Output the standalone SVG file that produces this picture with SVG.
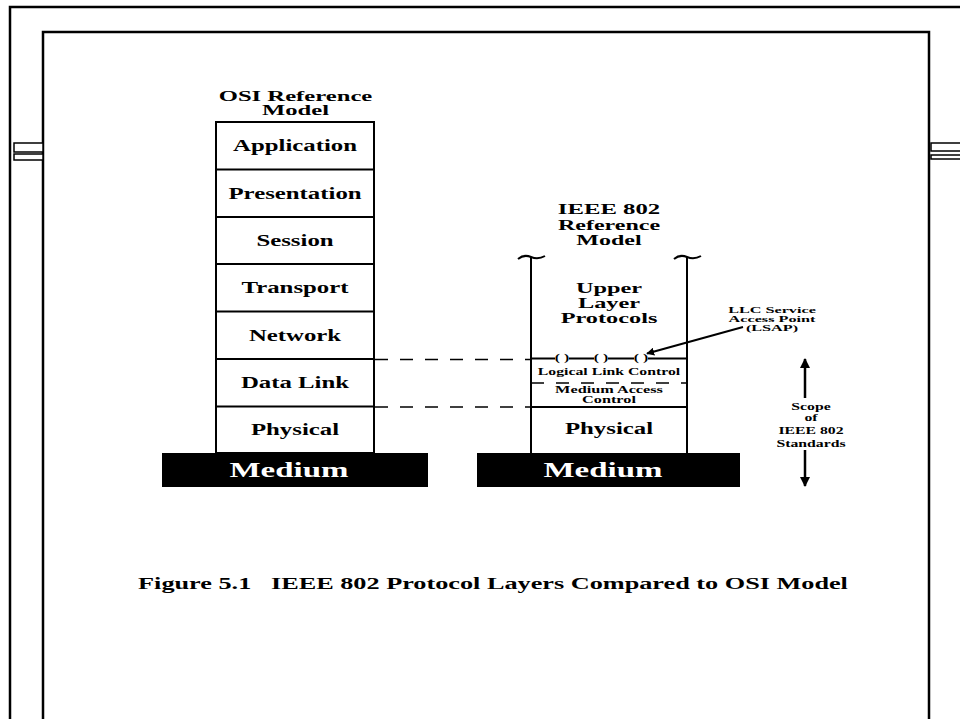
<svg xmlns="http://www.w3.org/2000/svg" width="960" height="719" viewBox="0 0 960 719">
<style>
  text { font-family: "Liberation Serif", "Times New Roman", serif; font-weight: bold; fill: #000; text-anchor: middle; }
  .t16 { font-size: 16px; }
  .t15 { font-size: 15px; }
  .t14 { font-size: 14.5px; }
  .t11 { font-size: 10.5px; }
  .t10 { font-size: 10.5px; }
  .t9 { font-size: 9.8px; }
  .t8 { font-size: 9px; }
  .med { font-size: 21px; fill: #fff; }
  .cap { font-size: 17.5px; }
  .frame { fill: none; stroke: #000; stroke-width: 2.5; }
  .box { fill: #fff; stroke: #000; stroke-width: 2; }
  .ln { stroke: #000; stroke-width: 2; fill: none; }
  .dash { stroke: #000; stroke-width: 1.5; stroke-dasharray: 13 12; fill: none; }
  .bar { fill: #fff; stroke: #000; stroke-width: 1.5; }
</style>
<defs>
  <marker id="ah" viewBox="0 0 10 10" refX="9" refY="5" markerWidth="4" markerHeight="4" orient="auto" markerUnits="strokeWidth">
    <path d="M0,0 L10,5 L0,10 z" fill="#000"/>
  </marker>
</defs>
<rect width="960" height="719" fill="#fff"/>

<g id="frames">
  <path class="frame" d="M10,719 V7 H962"/>
  <path class="frame" d="M43,719 V32 H929 V719"/>
  <rect class="bar" x="14" y="143" width="29" height="9"/>
  <rect class="bar" x="14" y="154" width="29" height="6"/>
  <rect class="bar" x="931" y="143" width="35" height="8"/>
  <rect class="bar" x="931" y="155" width="35" height="4"/>
</g>

<g id="osi-title">
  <text class="t14" transform="translate(295.5 100.5) scale(1.7 1)">OSI Reference</text>
  <text class="t14" transform="translate(295.5 115) scale(1.7 1)">Model</text>
</g>

<g id="osi-stack">
  <rect class="box" x="216" y="122" width="158" height="331"/>
  <path class="ln" d="M216,169.5 H374 M216,217 H374 M216,264 H374 M216,311.5 H374 M216,359 H374 M216,406.5 H374"/>
</g>
<g id="osi-application"><text class="t16" transform="translate(295 151.3) scale(1.55 1)">Application</text></g>
<g id="osi-presentation"><text class="t16" transform="translate(295 198.8) scale(1.55 1)">Presentation</text></g>
<g id="osi-session"><text class="t16" transform="translate(295 246) scale(1.55 1)">Session</text></g>
<g id="osi-transport"><text class="t16" transform="translate(295 293.3) scale(1.55 1)">Transport</text></g>
<g id="osi-network"><text class="t16" transform="translate(295 340.8) scale(1.55 1)">Network</text></g>
<g id="osi-datalink"><text class="t16" transform="translate(295 388.3) scale(1.55 1)">Data Link</text></g>
<g id="osi-physical"><text class="t16" transform="translate(295 435.3) scale(1.55 1)">Physical</text></g>
<g id="osi-medium">
  <rect x="162" y="453" width="266" height="34" fill="#000"/>
  <text class="med" transform="translate(289 477) scale(1.57 1)">Medium</text>
</g>

<g id="ieee-title">
  <text class="t15" transform="translate(609 214) scale(1.65 1)">IEEE 802</text>
  <text class="t15" transform="translate(609 229.5) scale(1.6 1)">Reference</text>
  <text class="t15" transform="translate(609 245) scale(1.6 1)">Model</text>
</g>

<g id="ieee-stack">
  <path class="ln" stroke-width="2.5" d="M531,257 V453 M687,257 V453"/>
  <path class="ln" stroke-width="1.8" d="M518,259 q6,-5 13,-2 q7,3 14,-1"/>
  <path class="ln" stroke-width="1.8" d="M674,259 q6,-5 13,-2 q7,3 14,-1"/>
  <path class="ln" stroke-width="1.5" d="M531,358.5 H555 M569,358.5 H594 M608,358.5 H634 M648,358.5 H687"/>
  <path class="dash" d="M531,383 H687"/>
  <path class="ln" d="M531,407 H687"/>
</g>
<g id="ieee-upper">
  <text class="t15" transform="translate(609 293) scale(1.62 1)">Upper</text>
  <text class="t15" transform="translate(609 308) scale(1.62 1)">Layer</text>
  <text class="t15" transform="translate(609 323) scale(1.62 1)">Protocols</text>
</g>
<g id="lsap-points">
  <text class="t10" transform="translate(562 361) scale(1.5 1)">( )</text>
  <text class="t10" transform="translate(601 361) scale(1.5 1)">( )</text>
  <text class="t10" transform="translate(641 361) scale(1.5 1)">( )</text>
</g>
<g id="ieee-llc"><text class="t10" transform="translate(609 375) scale(1.5 1)">Logical Link Control</text></g>
<g id="ieee-mac">
  <text class="t9" transform="translate(609 393) scale(1.66 1)">Medium Access</text>
  <text class="t9" transform="translate(609 403) scale(1.66 1)">Control</text>
</g>
<g id="ieee-physical"><text class="t16" transform="translate(609 434) scale(1.55 1)">Physical</text></g>
<g id="ieee-medium">
  <rect x="477" y="453" width="263" height="34" fill="#000"/>
  <text class="med" transform="translate(603 477) scale(1.57 1)">Medium</text>
</g>

<g id="lsap-label">
  <text class="t8" transform="translate(772 313) scale(1.8 1)">LLC Service</text>
  <text class="t8" transform="translate(772 322) scale(1.8 1)">Access Point</text>
  <text class="t8" transform="translate(772 331) scale(1.8 1)">(LSAP)</text>
</g>

<g id="scope-label">
  <text class="t11" transform="translate(811 410) scale(1.5 1)">Scope</text>
  <text class="t11" transform="translate(811 421) scale(1.5 1)">of</text>
  <text class="t11" transform="translate(811 434) scale(1.5 1)">IEEE 802</text>
  <text class="t11" transform="translate(811 447) scale(1.5 1)">Standards</text>
</g>

<g id="connectors">
  <path class="dash" d="M375,359.5 H531"/>
  <path class="dash" d="M375,407 H531"/>
  <line x1="743" y1="327" x2="647" y2="353.5" stroke="#000" stroke-width="2" marker-end="url(#ah)"/>
  <line x1="805" y1="398" x2="805" y2="359" stroke="#000" stroke-width="2.5" marker-end="url(#ah)"/>
  <line x1="805" y1="450" x2="805" y2="486" stroke="#000" stroke-width="2.5" marker-end="url(#ah)"/>
</g>

<g id="caption">
  <text class="cap" xml:space="preserve" transform="translate(493 589) scale(1.5 1)">Figure 5.1   IEEE 802 Protocol Layers Compared to OSI Model</text>
</g>
</svg>
